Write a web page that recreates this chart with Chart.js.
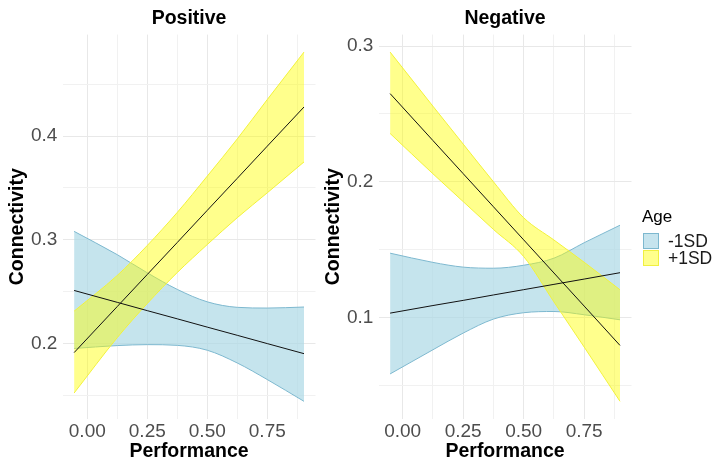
<!DOCTYPE html>
<html>
<head>
<meta charset="utf-8">
<script src="https://cdn.jsdelivr.net/npm/chart.js@4.4.1/dist/chart.umd.min.js"></script>
<style>
    body { margin: 0; background: #fff; font-family: 'Liberation Sans', Arial, sans-serif; }
    #wrap { position: relative; width: 712px; height: 464px; overflow: hidden; }
    canvas { position: absolute; top: 0; }
    #posChart { left: 0; }
    #negChart { left: 316px; }
    .legend-title { position: absolute; left: 642px; top: 208px; font-size: 17px; line-height: 17px; color: #000; }
    .key { position: absolute; left: 643px; width: 16px; height: 16px; box-sizing: border-box; border: 1px solid; }
    .key-label { position: absolute; left: 668px; font-size: 17.5px; line-height: 16px; color: #1a1a1a; }
</style>
</head>
<body>
<div id="wrap">
    <canvas id="posChart" width="316" height="464"></canvas>
    <canvas id="negChart" width="396" height="464"></canvas>
    <div class="legend-title">Age</div>
    <div class="key" style="top:233px; background:#c6e4ee; border-color:#7db8cf;"></div>
    <div class="key" style="top:250px; background:#ffff8c; border-color:#f0f040;"></div>
    <div class="key-label" style="top:233px;">-1SD</div>
    <div class="key-label" style="top:250px;">+1SD</div>
</div>
<script>
// Facets and groups
const PANELS = ['Positive', 'Negative'];
const GROUPS = ['-1SD', '+1SD'];

// Positive panel: performance values where the curves were read
const POS_X = [-0.055, 0.125, 0.25, 0.375, 0.5, 0.625, 0.75, 0.903];
const POS_LOW_FIT = [0.251, 0.2395, 0.2315, 0.2236, 0.2156, 0.2077, 0.1997, 0.190];
const POS_LOW_UPPER = [0.308, 0.2855, 0.268, 0.252, 0.240, 0.2347, 0.234, 0.235];
const POS_LOW_LOWER = [0.195, 0.1978, 0.1987, 0.198, 0.1933, 0.181, 0.165, 0.144];
const POS_HIGH_FIT = [0.191, 0.2355, 0.2664, 0.2973, 0.3283, 0.3592, 0.3902, 0.428];
const POS_HIGH_UPPER = [0.231, 0.2655, 0.2944, 0.3263, 0.3613, 0.3972, 0.4352, 0.481];
const POS_HIGH_LOWER = [0.152, 0.2055, 0.2384, 0.2683, 0.2953, 0.3212, 0.3452, 0.375];

// Negative panel
const NEG_X = [-0.052, 0.125, 0.25, 0.375, 0.5, 0.625, 0.75, 0.898];
const NEG_LOW_FIT = [0.1032, 0.1088, 0.1126, 0.1166, 0.1205, 0.1244, 0.1283, 0.133];
const NEG_LOW_UPPER = [0.1474, 0.1406, 0.1371, 0.1363, 0.1385, 0.1437, 0.1551, 0.168];
const NEG_LOW_LOWER = [0.0584, 0.0762, 0.0885, 0.0988, 0.1035, 0.1044, 0.1020, 0.0983];
const NEG_HIGH_FIT = [0.265, 0.2304, 0.2060, 0.1816, 0.1572, 0.1328, 0.1084, 0.0794];
const NEG_HIGH_UPPER = [0.2956, 0.2557, 0.2278, 0.2000, 0.1735, 0.1571, 0.1407, 0.1204];
const NEG_HIGH_LOWER = [0.2356, 0.2059, 0.1854, 0.1649, 0.1449, 0.1115, 0.0782, 0.0382];

// Tick labels and gridlines
const X_TICKS = [0, 0.25, 0.5, 0.75];
const X_MINOR = [0.125, 0.375, 0.625, 0.875];
const POS_Y_TICKS = [0.2, 0.3, 0.4];
const POS_Y_MINOR = [0.15, 0.25, 0.35, 0.45];
const NEG_Y_TICKS = [0.1, 0.2, 0.3];
const NEG_Y_MINOR = [0.05, 0.15, 0.25];

const FONT = "'Liberation Sans', Arial, Helvetica, sans-serif";
const BLUE_FILL = 'rgba(173, 216, 230, 0.7)';
const BLUE_EDGE = '#7db8cf';
const YELLOW_FILL = 'rgba(255, 255, 0, 0.45)';
const YELLOW_EDGE = '#f2f23a';

// ggplot style 5% expansion
function expand(vals) {
    const lo = Math.min(...vals);
    const hi = Math.max(...vals);
    const pad = (hi - lo) * 0.05;
    return [lo - pad, hi + pad];
}

function pts(xs, ys) {
    return xs.map((x, i) => ({ x: x, y: ys[i] }));
}

function near(v, list) {
    return list.some(t => Math.abs(t - v) < 1e-6);
}

// Facet strip title drawn above the plot area
const stripTitle = {
    id: 'stripTitle',
    afterDraw(chart, args, opts) {
        const { ctx, chartArea } = chart;
        ctx.save();
        ctx.font = 'bold 19.5px ' + FONT;
        ctx.fillStyle = '#000';
        ctx.textAlign = 'center';
        ctx.textBaseline = 'middle';
        ctx.fillText(opts.text, (chartArea.left + chartArea.right) / 2, 18.5);
        ctx.restore();
    }
};

function buildChart(id, title, xs, low, high, yTicks, yMinor, padRight) {
    const xRange = expand(xs);
    const yRange = expand([].concat(low.upper, low.lower, high.upper, high.lower));
    const xGrid = X_TICKS.concat(X_MINOR).filter(v => v >= xRange[0] && v <= xRange[1]);
    const yGrid = yTicks.concat(yMinor).filter(v => v >= yRange[0] && v <= yRange[1]);

    const band = (ys, color, order, fill, bg) => ({
        data: pts(xs, ys),
        borderColor: color,
        borderWidth: 1,
        backgroundColor: bg || 'transparent',
        fill: fill,
        pointRadius: 0,
        cubicInterpolationMode: 'monotone',
        order: order
    });
    const fit = (ys) => ({
        data: pts(xs, ys),
        borderColor: '#111',
        borderWidth: 1,
        fill: false,
        pointRadius: 0,
        tension: 0,
        order: 1
    });

    new Chart(document.getElementById(id), {
        type: 'line',
        data: {
            datasets: [
                band(low.lower, BLUE_EDGE, 3, false),
                band(low.upper, BLUE_EDGE, 3, 0, BLUE_FILL),
                band(high.lower, YELLOW_EDGE, 2, false),
                band(high.upper, YELLOW_EDGE, 2, 2, YELLOW_FILL),
                fit(low.fit),
                fit(high.fit)
            ]
        },
        options: {
            responsive: false,
            animation: false,
            devicePixelRatio: 1,
            layout: { padding: { top: 34.6, right: padRight, bottom: 0, left: 0 } },
            plugins: {
                legend: { display: false },
                tooltip: { enabled: false },
                stripTitle: { text: title }
            },
            scales: {
                x: {
                    type: 'linear',
                    min: xRange[0],
                    max: xRange[1],
                    afterBuildTicks: axis => { axis.ticks = xGrid.map(v => ({ value: v })); },
                    afterFit: axis => { axis.height = 45.2; },
                    border: { display: false },
                    grid: {
                        drawTicks: false,
                        color: c => near(c.tick.value, X_TICKS) ? '#e8e8e8' : '#f1f1f1',
                        lineWidth: 1
                    },
                    ticks: {
                        autoSkip: false,
                        maxRotation: 0,
                        padding: 1.6,
                        color: '#4d4d4d',
                        font: { family: FONT, size: 19, lineHeight: 1.2 },
                        callback: v => near(v, X_TICKS) ? v.toFixed(2) : ''
                    },
                    title: {
                        display: true,
                        text: 'Performance',
                        color: '#000',
                        font: { family: FONT, size: 19.5, weight: 'bold', lineHeight: 1 },
                        padding: { top: 0, bottom: 2.5 }
                    }
                },
                y: {
                    type: 'linear',
                    min: yRange[0],
                    max: yRange[1],
                    afterBuildTicks: axis => { axis.ticks = yGrid.map(v => ({ value: v })); },
                    afterFit: axis => { axis.width = 62.6; },
                    border: { display: false },
                    grid: {
                        drawTicks: false,
                        color: c => near(c.tick.value, yTicks) ? '#e8e8e8' : '#f1f1f1',
                        lineWidth: 1
                    },
                    ticks: {
                        autoSkip: false,
                        padding: 5.3,
                        color: '#4d4d4d',
                        font: { family: FONT, size: 19, lineHeight: 1.2 },
                        callback: v => near(v, yTicks) ? v.toFixed(1) : ''
                    },
                    title: {
                        display: true,
                        text: 'Connectivity',
                        color: '#000',
                        font: { family: FONT, size: 19.5, weight: 'bold', lineHeight: 1 },
                        padding: { top: 7.75, bottom: 0 }
                    }
                }
            }
        },
        plugins: [stripTitle]
    });
}

document.addEventListener('DOMContentLoaded', function() {
    buildChart('posChart', PANELS[0], POS_X,
        { fit: POS_LOW_FIT, upper: POS_LOW_UPPER, lower: POS_LOW_LOWER },
        { fit: POS_HIGH_FIT, upper: POS_HIGH_UPPER, lower: POS_HIGH_LOWER },
        POS_Y_TICKS, POS_Y_MINOR, 0.5);
    buildChart('negChart', PANELS[1], NEG_X,
        { fit: NEG_LOW_FIT, upper: NEG_LOW_UPPER, lower: NEG_LOW_LOWER },
        { fit: NEG_HIGH_FIT, upper: NEG_HIGH_UPPER, lower: NEG_HIGH_LOWER },
        NEG_Y_TICKS, NEG_Y_MINOR, 80.5);
});
</script>
</body>
</html>
